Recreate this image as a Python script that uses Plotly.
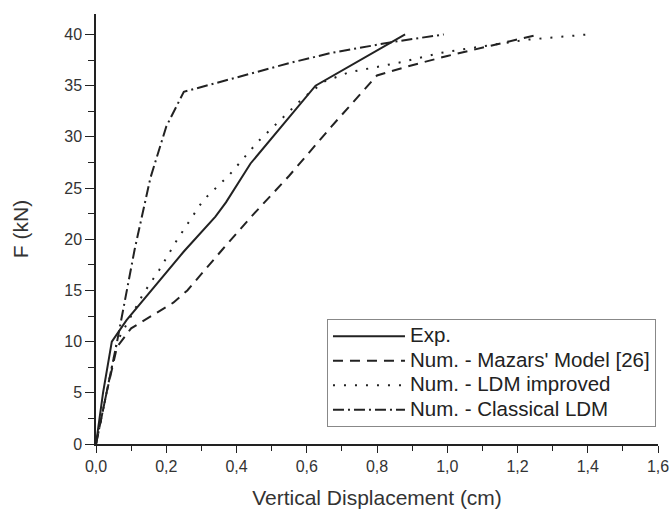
import plotly.graph_objects as go

exp_x = [0, 0.02, 0.045, 0.087, 0.25, 0.34, 0.37, 0.44, 0.625, 0.88]
exp_y = [0, 5, 10, 12.1, 18.8, 22.2, 23.6, 27.4, 35, 40]

maz_x = [0, 0.03, 0.06, 0.1, 0.22, 0.26, 0.36, 0.45, 0.55, 0.67, 0.8, 0.9, 1.0, 1.1, 1.2, 1.26]
maz_y = [0, 5, 9.5, 11.3, 13.8, 15, 19, 22.5, 26.2, 31, 36, 37, 37.9, 38.7, 39.5, 40]

ldm_x = [0, 0.03, 0.06, 0.1, 0.135, 0.18, 0.23, 0.305, 0.38, 0.46, 0.52, 0.59, 0.65, 0.72, 0.87, 0.98, 1.13, 1.23, 1.40]
ldm_y = [0, 5, 10, 12.5, 14.7, 17, 19.9, 23.8, 26.3, 29.5, 31.5, 33.8, 35.4, 36.3, 37.3, 38.2, 39, 39.5, 40]

cls_x = [0, 0.03, 0.06, 0.11, 0.155, 0.2, 0.25, 0.4, 0.55, 0.67, 0.85, 0.99]
cls_y = [0, 5, 10, 19, 26, 31, 34.4, 35.8, 37.2, 38.2, 39.3, 40]

names = ["Exp.", "Num. - Mazars' Model [26]", "Num. - LDM improved", "Num. - Classical LDM"]

C = "#222222"
def lab(s):
    return "<span style='font-size:20.5px'>" + s + "</span>"

fig = go.Figure()
fig.add_trace(go.Scatter(x=exp_x, y=exp_y, mode="lines", name=lab(names[0]), legendgroup="a",
                         line=dict(color=C, width=2)))
fig.add_trace(go.Scatter(x=maz_x, y=maz_y, mode="lines", name=lab(names[1]), legendgroup="b",
                         line=dict(color=C, width=2, dash="10px,7px")))
fig.add_trace(go.Scatter(x=ldm_x, y=ldm_y, mode="lines", name=lab(names[2]), legendgroup="c",
                         line=dict(color=C, width=2, dash="2px,9px")))
fig.add_trace(go.Scatter(x=cls_x, y=cls_y, mode="lines", name=lab(names[3]), legendgroup="d",
                         line=dict(color=C, width=2, dash="11px,4px,2px,4px")))

font = "Arial"
fig.update_layout(
    width=670, height=509,
    margin=dict(l=96, r=12, t=14, b=65),
    paper_bgcolor="white", plot_bgcolor="white",
    separators=",.",
    font=dict(family=font, color="#333333", size=16),
    showlegend=True,
    legend=dict(x=0.411, y=0.2907, xanchor="left", yanchor="top",
                bgcolor="white", bordercolor="#888888", borderwidth=1,
                font=dict(size=15, color="#222222"),
                tracegroupgap=2, itemwidth=72),
    xaxis=dict(range=[0, 1.6], dtick=0.2, tickformat=".1f", automargin=False,
               showgrid=False, zeroline=False, showline=True, linecolor=C, linewidth=1.5,
               ticks="outside", ticklen=7, tickcolor=C, tickwidth=1.2,
               minor=dict(ticks="outside", ticklen=5, dtick=0.1, tickcolor=C, tickwidth=1.2),
               title=dict(text="Vertical Displacement (cm)", font=dict(size=21, color="#333333"), standoff=16),
               tickfont=dict(size=16)),
    yaxis=dict(range=[0, 42], dtick=5, automargin=False,
               showgrid=False, zeroline=False, showline=True, linecolor=C, linewidth=1.5,
               ticks="outside", ticklen=9, tickcolor=C, tickwidth=1.2,
               minor=dict(ticks="outside", ticklen=6, dtick=2.5, tickcolor=C, tickwidth=1.2),
               title=dict(text="F (kN)", font=dict(size=21, color="#333333"), standoff=30),
               tickfont=dict(size=16)),
)

fig.write_html("out.html")
